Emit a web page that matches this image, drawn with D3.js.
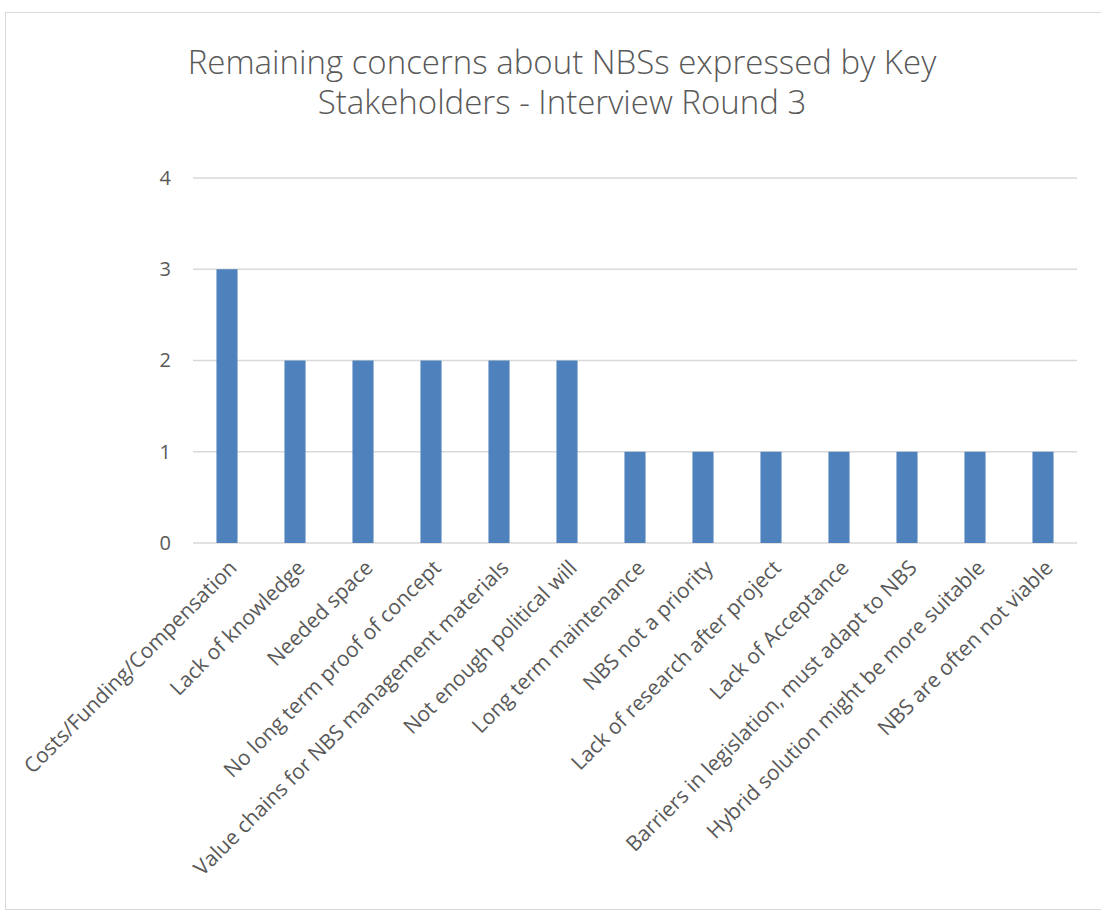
<!DOCTYPE html>
<meta charset="utf-8">
<head>
  <title>remaining-concerns</title>
</head>
<style>
  body { margin: 0; background: #fff; }
  text { font-family: "Open Sans", "Liberation Sans", sans-serif; fill: #595959; }
</style>
<body>
  <div id="content">
    <svg width="1101" height="914"></svg>
  </div>

  <script src="https://cdnjs.cloudflare.com/ajax/libs/d3/7.8.5/d3.min.js"></script>

  <script>
    var categories = [
      'Costs/Funding/Compensation',
      'Lack of knowledge',
      'Needed space',
      'No long term proof of concept',
      'Value chains for NBS management materials',
      'Not enough political will',
      'Long term maintenance',
      'NBS not a priority',
      'Lack of research after project',
      'Lack of Acceptance',
      'Barriers in legislation, must adapt to NBS',
      'Hybrid solution might be more suitable',
      'NBS are often not viable'
    ];
    var counts = [3, 2, 2, 2, 2, 2, 1, 1, 1, 1, 1, 1, 1];
    var yTicks = [0, 1, 2, 3, 4];
    var titleLines = ['Remaining concerns about NBSs expressed by Key',
      'Stakeholders - Interview Round 3'];

    var svg = d3.select('svg');

    // chart frame
    svg.append('rect')
      .attr('x', 5.5).attr('y', 12.5)
      .attr('width', 1110).attr('height', 897)
      .attr('fill', 'none')
      .attr('stroke', '#d9d9d9');

    var plotLeft = 193, plotRight = 1077, plotTop = 178, plotBottom = 543;

    var x = d3.scaleBand()
      .domain(categories)
      .range([plotLeft, plotRight])
      .paddingInner(0.69)
      .paddingOuter(0.345);

    var y = d3.scaleLinear()
      .domain([0, 4])
      .range([plotBottom, plotTop]);

    // gridlines
    svg.append('g')
      .selectAll('line')
      .data(yTicks)
      .enter()
      .append('line')
      .attr('x1', plotLeft).attr('x2', plotRight)
      .attr('y1', function(d) { return y(d); })
      .attr('y2', function(d) { return y(d); })
      .attr('stroke', '#d9d9d9')
      .attr('stroke-width', 1.5);

    // y axis labels
    var yAxis = d3.axisLeft(y).tickValues(yTicks).tickFormat(d3.format('d')).tickSize(0).tickPadding(22);
    var gy = svg.append('g')
      .attr('transform', 'translate(' + plotLeft + ',0)')
      .call(yAxis);
    gy.select('.domain').remove();
    gy.selectAll('text')
      .style('font-size', '20px')
      .style('font-family', '"Open Sans", sans-serif')
      .attr('fill', '#595959');

    // bars
    svg.append('g')
      .selectAll('rect')
      .data(counts)
      .enter()
      .append('rect')
      .attr('x', function(d, i) { return x(categories[i]); })
      .attr('y', function(d) { return y(d); })
      .attr('width', x.bandwidth())
      .attr('height', function(d) { return y(0) - y(d); })
      .attr('fill', '#4f81bd');

    // x axis labels
    var xAxis = d3.axisBottom(x).tickSize(0).tickPadding(0);
    var gx = svg.append('g')
      .attr('transform', 'translate(0,' + plotBottom + ')')
      .call(xAxis);
    gx.select('.domain').remove();
    gx.selectAll('text')
      .style('font-size', '21px')
      .style('font-family', '"Open Sans", sans-serif')
      .attr('fill', '#595959')
      .attr('text-anchor', 'end')
      .attr('y', 0)
      .attr('dy', '0.35em')
      .attr('transform', 'translate(6,21) rotate(-45)');

    // title
    svg.append('text')
      .attr('text-anchor', 'middle')
      .style('font-size', '33px')
      .style('font-weight', 300)
      .selectAll('tspan')
      .data(titleLines)
      .enter()
      .append('tspan')
      .attr('x', 562)
      .attr('y', function(d, i) { return 74 + i * 40; })
      .text(function(d) { return d; });
  </script>
</body>
</html>
